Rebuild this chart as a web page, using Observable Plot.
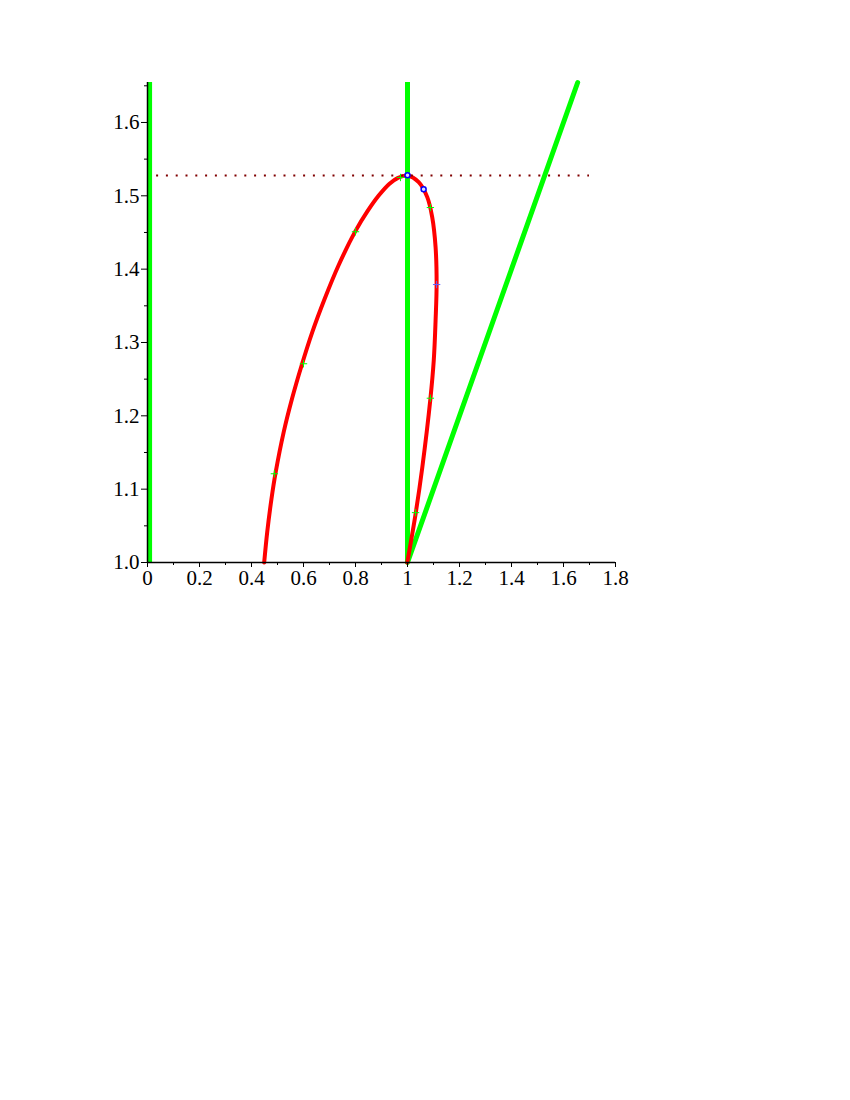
<!DOCTYPE html>
<html>
<head>
<meta charset="utf-8">
<script src="https://cdn.jsdelivr.net/npm/d3@7"></script>
<script src="https://cdn.jsdelivr.net/npm/@observablehq/plot@0.6"></script>
<style>
  html, body { margin: 0; padding: 0; background: #fff; }
  #chart svg { display: block; }
</style>
</head>
<body>
<div id="chart"></div>
<script>
// Axis ticks
const xMajor = [0, 0.2, 0.4, 0.6, 0.8, 1, 1.2, 1.4, 1.6, 1.8];
const xMinor = [0.1, 0.3, 0.5, 0.7, 0.9, 1.1, 1.3, 1.5, 1.7];
const yMajor = [1.0, 1.1, 1.2, 1.3, 1.4, 1.5, 1.6];
const yMinor = [1.05, 1.15, 1.25, 1.35, 1.45, 1.55, 1.65];
const xDomain = [0, 1.8];
const yDomain = [1, 1.6545];

// Red curve
const curveX = [0.4488, 0.4604, 0.4769, 0.4931, 0.5238, 0.5558, 0.5927, 0.6338, 0.6815, 0.7346, 0.7996, 0.8462, 0.8885, 0.9308, 0.9635, 0.9988,
                1.043, 1.076, 1.095, 1.108, 1.112, 1.108, 1.101, 1.088, 1.057, 1.031, 0.999];
const curveY = [1.000, 1.0413, 1.0869, 1.1231, 1.1777, 1.2232, 1.2686, 1.3141, 1.3596, 1.4050, 1.4518, 1.4790, 1.5000, 1.5165, 1.5245, 1.5277,
                1.5186, 1.4982, 1.4709, 1.430, 1.380, 1.330, 1.2755, 1.223, 1.130, 1.066, 1.000];

// Green lines: verticals and the diagonal y = x
const greenVerticals = [0.008, 1];
const diagX = [1, 1.6545];
const diagY = [1, 1.6545];

// Dotted horizontal
const dottedY = 1.5277;
const dottedFrom = 0.035;
const dottedTo = 1.7;

// Small markers on the curve
const greenMarkX = [0.488, 0.600, 0.800, 0.973, 1.088, 1.088, 1.031];
const greenMarkY = [1.121, 1.271, 1.451, 1.525, 1.484, 1.224, 1.068];
const blueMarkX = [1.112];
const blueMarkY = [1.379];
const blueCircleX = [1.0, 1.062];
const blueCircleY = [1.528, 1.509];

const zip = (xs, ys) => xs.map((x, i) => ({x, y: ys[i]}));
const curve = zip(curveX, curveY);
const diag = zip(diagX, diagY);
const greenMarks = zip(greenMarkX, greenMarkY);
const blueMarks = zip(blueMarkX, blueMarkY);
const blueCircles = zip(blueCircleX, blueCircleY);

const fmtX = d => String(+d.toFixed(1));
const fmtY = d => d.toFixed(1);

const chart = Plot.plot({
  width: 850,
  height: 600,
  marginLeft: 147,
  marginRight: 235,
  marginTop: 82,
  marginBottom: 38,
  x: {domain: xDomain},
  y: {domain: yDomain},
  style: {fontFamily: "'Liberation Serif', 'Times New Roman', serif", fontSize: "21px", color: "black", background: "white", overflow: "visible"},
  marks: [
    Plot.ruleX(greenVerticals, {x: d => d, y1: yDomain[0], y2: yDomain[1], stroke: "#00FF00", strokeWidth: 5}),
    Plot.line(diag, {x: "x", y: "y", stroke: "#00FF00", strokeWidth: 5}),
    Plot.line(curve, {x: "x", y: "y", stroke: "#FF0000", strokeWidth: 4, curve: "catmull-rom"}),
    Plot.ruleY([dottedY], {x1: dottedFrom, x2: dottedTo, stroke: "#800000", strokeWidth: 2, strokeDasharray: "2,7.8"}),
    Plot.dot(greenMarks, {x: "x", y: "y", symbol: "plus", r: 2.5, stroke: "#00FF00", strokeWidth: 1}),
    Plot.dot(blueMarks, {x: "x", y: "y", symbol: "plus", r: 2.5, stroke: "#6060FF", strokeWidth: 1}),
    Plot.dot(blueCircles, {x: "x", y: "y", r: 2.5, stroke: "#0000FF", strokeWidth: 1.5, fill: "#ddddff"}),
    Plot.ruleY([yDomain[0]], {x1: xDomain[0], x2: xDomain[1], stroke: "black", strokeWidth: 1.5}),
    Plot.ruleX([xDomain[0]], {y1: yDomain[0], y2: yDomain[1], stroke: "black", strokeWidth: 1.5}),
    Plot.axisX(xMajor, {tickSize: 5, tickPadding: 3, tickFormat: fmtX, label: null, fontSize: 21}),
    Plot.axisX(xMinor, {tickSize: 3, fill: "none", label: null}),
    Plot.axisY(yMajor, {tickSize: 6, tickPadding: 2, tickFormat: fmtY, label: null, fontSize: 21}),
    Plot.axisY(yMinor, {tickSize: 3, fill: "none", label: null})
  ]
});
document.getElementById("chart").append(chart);
</script>
</body>
</html>
